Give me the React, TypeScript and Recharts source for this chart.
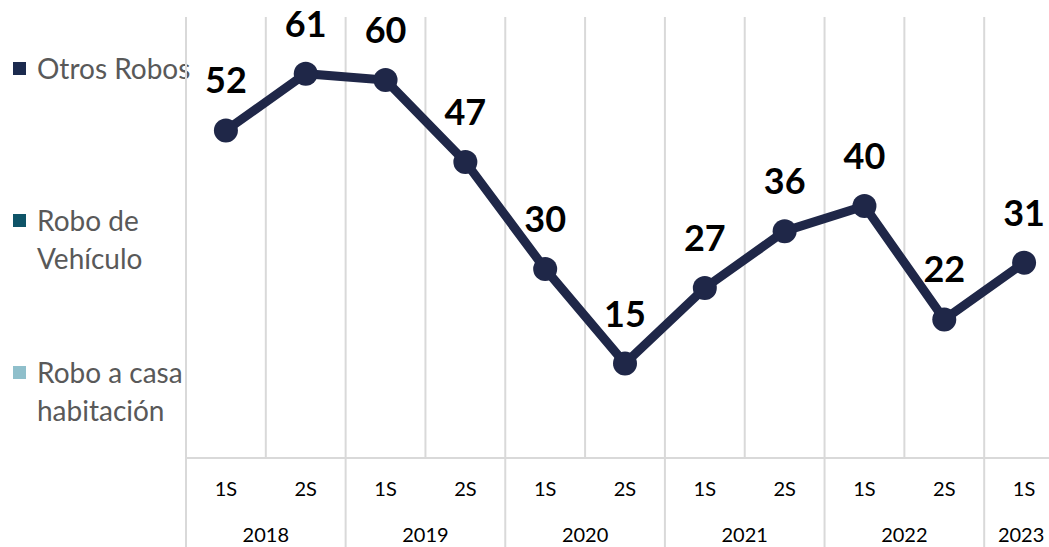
import React from "react";
import { LineChart, Line, XAxis, YAxis, CartesianGrid, LabelList } from "recharts";

const halves = ["1S", "2S", "1S", "2S", "1S", "2S", "1S", "2S", "1S", "2S", "1S"];
const years = ["2018", "2018", "2019", "2019", "2020", "2020", "2021", "2021", "2022", "2022", "2023"];
const otrosRobos = [52, 61, 60, 47, 30, 15, 27, 36, 40, 22, 31];

const legendNames = ["Otros Robos", "Robo de Vehículo", "Robo a casa habitación"];
const legendColors = ["#1B2A4E", "#0E5468", "#8FBFCB"];

const data = halves.map((h, i) => ({ half: h, year: years[i], value: otrosRobos[i] }));

const LINE = "#1F2748";
const GRID = "#D9D9D9";
const FONT = "Lato, 'DejaVu Sans', sans-serif";
const PLOT_W = 878;
const HALF_BAND = PLOT_W / halves.length / 2;

const TwoRowTick = (props: any) => {
  const { x, y, payload } = props;
  const i = payload.index;
  const band = HALF_BAND * 2;
  const first = i === 0 || years[i] !== years[i - 1];
  const pair = first && years[i + 1] === years[i];
  return (
    <g>
      <text x={x} y={y + 38} textAnchor="middle" fontSize={20} fill="#000" fontFamily={FONT}>
        {payload.value}
      </text>
      {first && (
        <>
          <line x1={x - band / 2} x2={x - band / 2} y1={y} y2={y + 95} stroke={GRID} strokeWidth={2} />
          <text
            x={pair ? x + band / 2 : x - 3}
            y={y + 84}
            textAnchor="middle"
            fontSize={20}
            fill="#000"
            fontFamily={FONT}
          >
            {years[i]}
          </text>
        </>
      )}
    </g>
  );
};

const Legend = () => (
  <div style={{ position: "absolute", left: 13, top: 49, fontFamily: FONT, color: "#595959" }}>
    {legendNames.map((name, i) => (
      <div key={name} style={{ position: "absolute", top: i * 152, left: 0, width: 200, display: "flex" }}>
        <div style={{ width: 13, height: 13, background: legendColors[i], marginTop: 13, flex: "none" }} />
        <div style={{ marginLeft: 11, fontSize: 28, lineHeight: "38px", width: 170 }}>{name}</div>
      </div>
    ))}
  </div>
);

export default function App() {
  return (
    <div
      style={{
        position: "absolute",
        left: 0,
        top: 0,
        width: 1049,
        height: 547,
        overflow: "hidden",
        background: "#fff",
      }}
    >
      <Legend />
      <div style={{ position: "absolute", left: 0, top: 0 }}>
        <LineChart width={186 + PLOT_W + 16} height={547} data={data} margin={{ top: 17, right: 16, left: 186, bottom: 0 }}>
          <CartesianGrid
            horizontal={false}
            stroke={GRID}
            strokeWidth={2}
            verticalCoordinatesGenerator={({ offset }: any) =>
              Array.from({ length: halves.length + 1 }, (_, k) => offset.left + (k * offset.width) / halves.length)
            }
          />
          <XAxis
            dataKey="half"
            padding={{ left: HALF_BAND, right: HALF_BAND }}
            height={89}
            tickSize={0}
            tickMargin={0}
            tickLine={false}
            axisLine={{ stroke: GRID, strokeWidth: 2 }}
            interval={0}
            tick={<TwoRowTick />}
          />
          <YAxis hide domain={[0, 70]} />
          <Line
            type="linear"
            dataKey="value"
            stroke={LINE}
            strokeWidth={9}
            dot={{ r: 12, fill: LINE, stroke: LINE, strokeWidth: 0 }}
            activeDot={false}
            isAnimationActive={false}
          >
            <LabelList
              dataKey="value"
              position="top"
              offset={37}
              fill="#000"
              fontSize={36}
              fontWeight="bold"
              fontFamily={FONT}
            />
          </Line>
        </LineChart>
      </div>
    </div>
  );
}
